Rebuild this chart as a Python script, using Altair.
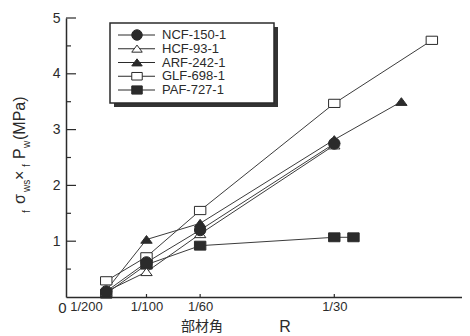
import altair as alt
import pandas as pd

# ---------------- data ----------------
names = ["NCF-150-1", "HCF-93-1", "ARF-242-1", "GLF-698-1", "PAF-727-1"]

r_ncf = [1/200, 1/100, 1/60, 1/30]
v_ncf = [0.10, 0.62, 1.20, 2.75]

r_hcf = [1/200, 1/100, 1/60, 1/30]
v_hcf = [0.10, 0.45, 1.13, 2.72]

r_arf = [1/200, 1/100, 1/60, 1/30, 1/24]
v_arf = [0.12, 1.03, 1.32, 2.82, 3.50]

r_glf = [1/200, 1/100, 1/60, 1/30, 1/22]
v_glf = [0.29, 0.72, 1.55, 3.47, 4.60]

r_paf = [1/200, 1/100, 1/60, 1/30, 1/28]
v_paf = [0.06, 0.58, 0.92, 1.07, 1.07]

x_tick_values = [0, 1/200, 1/100, 1/60, 1/30]
x_tick_labels = ["0", "1/200", "1/100", "1/60", "1/30"]
y_label_values = [1, 2, 3, 4, 5]
y_major_ticks = [1, 2, 3, 4, 5]
y_minor_ticks = [0.5, 1.5, 2.5, 3.5, 4.5]
x_small_ticks = [1/100, 1/60, 1/30]

# ---------------- styles ----------------
INK = "#2b2b2b"
LINE = "#3c3c3c"
FONT = "Liberation Sans"
CJK = "Noto Sans CJK JP"

shape_paths = [
    "circle",
    "M0,-0.7L1,0.65L-1,0.65Z",
    "M0,-0.7L1,0.65L-1,0.65Z",
    "M-1,-0.72H1V0.72H-1Z",
    "M-1,-0.78H1V0.78H-1Z",
]
fills = [INK, "white", INK, "white", INK]

series_data = {
    "NCF-150-1": (r_ncf, v_ncf),
    "HCF-93-1": (r_hcf, v_hcf),
    "ARF-242-1": (r_arf, v_arf),
    "GLF-698-1": (r_glf, v_glf),
    "PAF-727-1": (r_paf, v_paf),
}
draw_order = ["GLF-698-1", "PAF-727-1", "HCF-93-1", "ARF-242-1", "NCF-150-1"]
rows = []
for s in draw_order:
    rs, vs = series_data[s]
    for r, v in zip(rs, vs):
        rows.append({"series": s, "R": r, "val": v})
df = pd.DataFrame(rows)

shape_scale = alt.Scale(domain=names, range=shape_paths)
fill_scale = alt.Scale(domain=names, range=fills)

W, H = 396, 279
XMAX = 0.0492

label_expr = " : ".join(
    [f"abs(datum.value - {v}) < 0.0001 ? '{l}'" for v, l in zip(x_tick_values, x_tick_labels)]
) + " : ''"

x_enc = alt.X(
    "R:Q",
    scale=alt.Scale(domain=[0, XMAX], nice=False, zero=False),
    axis=alt.Axis(
        values=x_tick_values,
        labelExpr=label_expr,
        ticks=False,
        grid=False,
        title=None,
        labelFont=FONT,
        labelFontSize={"condition": {"test": "datum.value == 0", "value": 15}, "value": 13},
        labelColor=INK,
        labelPadding=3,
        labelFlush=False,
        labelOverlap=False,
        labelBound=False,
        labelAlign={"condition": {"test": "datum.value < 0.006", "value": "right"}, "value": "center"},
        labelOffset={"condition": {"test": "datum.value > 0.004 && datum.value < 0.006", "value": -4}, "value": 0},
        domainColor=INK,
        domainWidth=1.5,
    ),
)
y_enc = alt.Y(
    "val:Q",
    scale=alt.Scale(domain=[0, 5], nice=False),
    axis=alt.Axis(
        values=y_label_values,
        ticks=False,
        grid=False,
        title=None,
        labelFont=FONT,
        labelFontSize=14,
        labelColor=INK,
        labelPadding=6,
        domainColor=INK,
        domainWidth=1.5,
    ),
)

base = alt.Chart(df)
lines = base.mark_line(color=LINE, strokeWidth=1).encode(
    x=x_enc, y=y_enc, detail="series:N", order="R:Q"
)
points = base.mark_point(filled=True, stroke=INK, strokeWidth=1, opacity=1, size=130).encode(
    x="R:Q",
    y="val:Q",
    shape=alt.Shape("series:N", scale=shape_scale, legend=None),
    fill=alt.Fill("series:N", scale=fill_scale, legend=None),
)

# inward ticks
ymaj = alt.Chart(pd.DataFrame({"val": y_major_ticks})).mark_rule(color=INK, strokeWidth=1.2).encode(
    y="val:Q", x=alt.value(0), x2=alt.value(10)
)
ymin = alt.Chart(pd.DataFrame({"val": y_minor_ticks})).mark_rule(color=INK, strokeWidth=1.2).encode(
    y="val:Q", x=alt.value(0), x2=alt.value(5)
)
xt = alt.Chart(pd.DataFrame({"R": x_small_ticks})).mark_rule(color=INK, strokeWidth=1.2).encode(
    x="R:Q", y=alt.value(H), y2=alt.value(H - 3)
)

# legend
one = pd.DataFrame({"a": [0]})
shadow = alt.Chart(one).mark_rect(fill="#333333").encode(
    x=alt.value(48), x2=alt.value(212), y=alt.value(9), y2=alt.value(89)
)
box = alt.Chart(one).mark_rect(fill="white", stroke=INK, strokeWidth=1.5).encode(
    x=alt.value(44), x2=alt.value(208), y=alt.value(5), y2=alt.value(85)
)
leg = alt.Chart(pd.DataFrame({"series": names, "idx": list(range(len(names)))})).transform_calculate(
    ypx="17 + 13.75 * datum.idx"
)
leg_y = alt.Y("ypx:Q", scale=None, axis=None)
leg_lines = leg.mark_rule(color=INK, strokeWidth=1).encode(x=alt.value(52), x2=alt.value(89), y=leg_y)
leg_pts = leg.mark_point(filled=True, stroke=INK, strokeWidth=1, opacity=1, size=110).encode(
    x=alt.value(71),
    y=leg_y,
    shape=alt.Shape("series:N", scale=shape_scale, legend=None),
    fill=alt.Fill("series:N", scale=fill_scale, legend=None),
)
leg_text = leg.mark_text(align="left", baseline="middle", font=FONT, fontSize=13, color=INK).encode(
    x=alt.value(96), y=leg_y, text="series:N"
)

# y-axis title pieces (rotated): text, page-x baseline, page-y start, size
OX, OY = 66, 18
title_parts = [
    ("f", 30, 213, 10),
    ("σ", 25, 204, 16),
    ("ws", 30, 192, 10),
    ("×", 25, 180, 16),
    ("f", 30, 167, 10),
    ("P", 25, 159, 16),
    ("w", 30, 148, 10),
    ("(MPa)", 25, 140, 16),
]
title_layers = []
for t, px, py, fs in title_parts:
    title_layers.append(
        alt.Chart(one).mark_text(
            text=t, angle=270, align="left", baseline="alphabetic", font=FONT, fontSize=fs, color=INK
        ).encode(x=alt.value(px - OX), y=alt.value(py - OY))
    )

xt1 = alt.Chart(one).mark_text(text="部材角", font=CJK, fontSize=14, color=INK, baseline="middle").encode(
    x=alt.value(202 - OX), y=alt.value(327 - OY)
)
xt2 = alt.Chart(one).mark_text(text="R", font=FONT, fontSize=16, color=INK, baseline="middle").encode(
    x=alt.value(285 - OX), y=alt.value(327 - OY)
)

chart = alt.layer(
    lines, points, ymaj, ymin, xt, shadow, box, leg_lines, leg_pts, leg_text, xt1, xt2, *title_layers
).properties(
    width=W,
    height=H,
    padding={"left": 58, "top": 10, "right": 0, "bottom": 39},
    autosize=alt.AutoSizeParams(type="none"),
    background="white",
).configure_view(stroke=None)

chart.save("out.html", embed_options={"renderer": "svg", "actions": False})
